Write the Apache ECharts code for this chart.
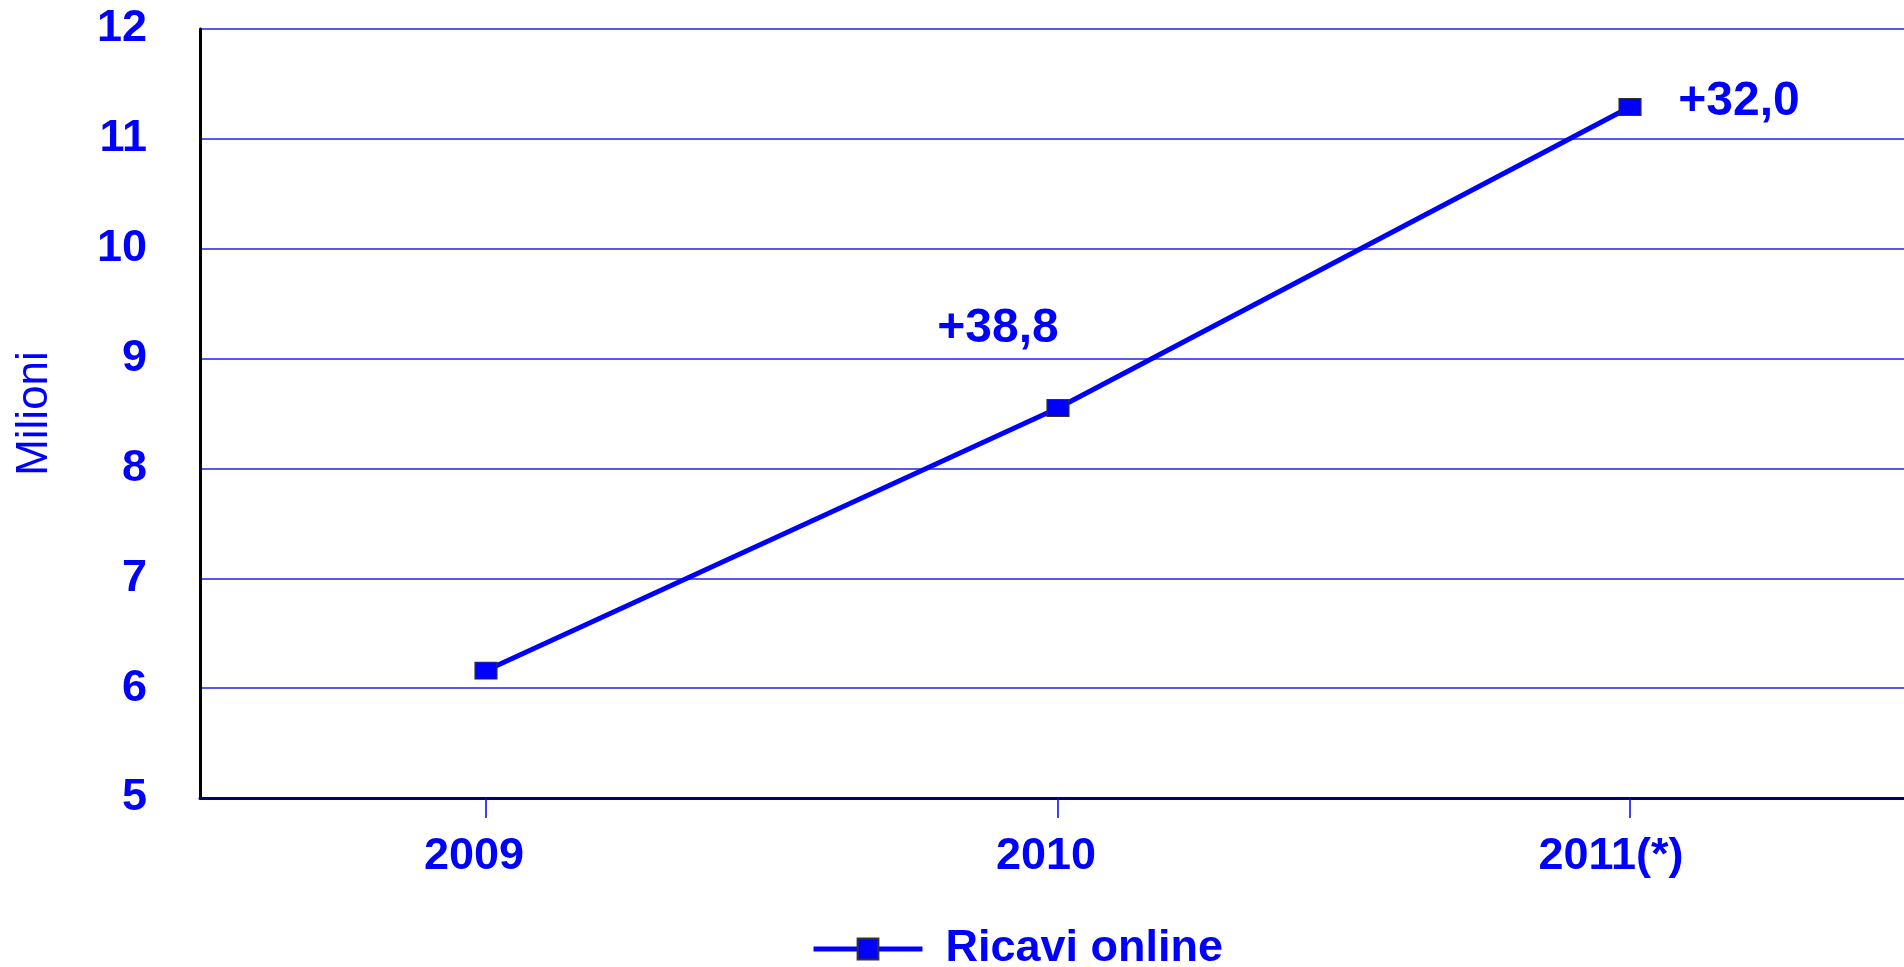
<!DOCTYPE html>
<html>
<head>
<meta charset="utf-8">
<script src="https://cdn.jsdelivr.net/npm/echarts@6/dist/echarts.min.js"></script>
<style>
html,body{margin:0;padding:0;background:#fff;overflow:hidden;}
#chart{width:1930px;height:967px;}
</style>
</head>
<body>
<div id="chart"></div>
<script>
const categories = ['2009', '2010', '2011(*)'];
const ricaviOnline = [6.16, 8.55, 11.29];
const growthLabels = ['', '+38,8', '+32,0'];
const seriesName = 'Ricavi online';
const axisName = 'Milioni';

const labelOffsets = [[0, 0], [-60, -79], [109, -5]];
const catLabelPad = [[0, 24, 0, 0], [0, 24, 0, 0], [0, 38, 0, 0]];
const FONT = 'Liberation Sans, Arial, sans-serif';
const BLUE = '#0000FF';

const data = ricaviOnline.map((v, i) => ({
  value: v,
  label: {
    show: growthLabels[i] !== '',
    formatter: growthLabels[i],
    position: 'inside',
    offset: labelOffsets[i],
    color: BLUE,
    fontFamily: FONT,
    fontWeight: 'bold',
    fontSize: 48
  }
}));

const catData = categories.map((c, i) => ({ value: c, textStyle: { padding: catLabelPad[i] } }));

const chart = echarts.init(document.getElementById('chart'));
chart.setOption({
  animation: false,
  backgroundColor: '#ffffff',
  grid: { left: 200, top: 29, bottom: 169, width: 1716, containLabel: false },
  xAxis: {
    type: 'category',
    data: catData,
    boundaryGap: true,
    axisLine: { show: true, lineStyle: { color: '#000080', width: 3 } },
    axisTick: { show: true, alignWithLabel: true, length: 20, lineStyle: { color: BLUE, width: 1.5 } },
    axisLabel: { color: BLUE, fontFamily: FONT, fontWeight: 'bold', fontSize: 45, margin: 36 },
    splitLine: { show: false }
  },
  yAxis: {
    type: 'value',
    min: 5, max: 12, interval: 1,
    name: axisName,
    nameLocation: 'middle',
    nameGap: 143,
    nameRotate: 90,
    nameTextStyle: { color: BLUE, fontFamily: FONT, fontSize: 44 },
    axisLine: { show: true, lineStyle: { color: '#000000', width: 3 } },
    axisTick: { show: false },
    axisLabel: { color: BLUE, fontFamily: FONT, fontWeight: 'bold', fontSize: 45, margin: 53 },
    splitLine: { show: true, lineStyle: { color: '#2020E6', width: 1.6 } }
  },
  legend: {
    left: 806,
    top: 921,
    itemWidth: 109,
    itemHeight: 26,
    data: [seriesName],
    lineStyle: { width: 5 },
    textStyle: { color: BLUE, fontFamily: FONT, fontWeight: 'bold', fontSize: 45, lineHeight: 46, padding: [0, 0, 0, 18] }
  },
  series: [{
    name: seriesName,
    type: 'line',
    data: data,
    symbol: 'rect',
    symbolSize: [22, 17],
    lineStyle: { color: BLUE, width: 5 },
    itemStyle: { color: BLUE, borderColor: '#333333', borderWidth: 1 }
  }]
});
</script>
</body>
</html>
